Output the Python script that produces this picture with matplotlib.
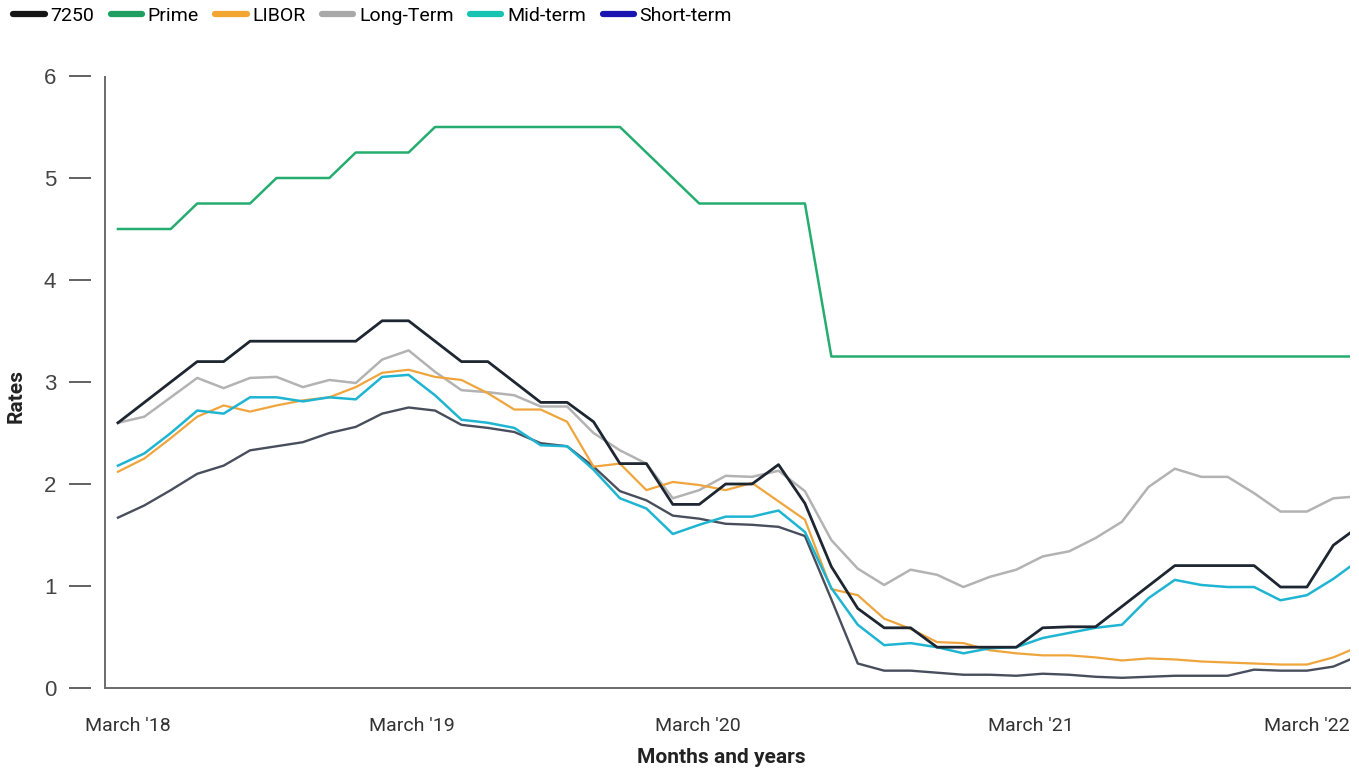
import numpy as np
import matplotlib
matplotlib.use("Agg")
import matplotlib.pyplot as plt
from matplotlib.lines import Line2D

# monthly series, index 0 = first month shown
rate_7250 = [2.60, 2.80, 3.00, 3.20, 3.20, 3.40, 3.40, 3.40, 3.40, 3.40,
             3.60, 3.60, 3.40, 3.20, 3.20, 3.00, 2.80, 2.80, 2.61, 2.20,
             2.20, 1.80, 1.80, 2.00, 2.00, 2.19, 1.81, 1.19, 0.78, 0.59,
             0.59, 0.40, 0.40, 0.40, 0.40, 0.59, 0.60, 0.60, 0.80, 1.00,
             1.20, 1.20, 1.20, 1.20, 0.99, 0.99, 1.40, 1.59]
prime = [4.50, 4.50, 4.50, 4.75, 4.75, 4.75, 5.00, 5.00, 5.00, 5.25,
         5.25, 5.25, 5.50, 5.50, 5.50, 5.50, 5.50, 5.50, 5.50, 5.50,
         5.25, 5.00, 4.75, 4.75, 4.75, 4.75, 4.75, 3.25, 3.25, 3.25,
         3.25, 3.25, 3.25, 3.25, 3.25, 3.25, 3.25, 3.25, 3.25, 3.25,
         3.25, 3.25, 3.25, 3.25, 3.25, 3.25, 3.25, 3.25]
libor = [2.12, 2.25, 2.45, 2.66, 2.77, 2.71, 2.77, 2.82, 2.85, 2.95,
         3.09, 3.12, 3.05, 3.02, 2.89, 2.73, 2.73, 2.61, 2.17, 2.20,
         1.94, 2.02, 1.99, 1.94, 2.01, 1.83, 1.65, 0.97, 0.91, 0.68,
         0.58, 0.45, 0.44, 0.37, 0.34, 0.32, 0.32, 0.30, 0.27, 0.29,
         0.28, 0.26, 0.25, 0.24, 0.23, 0.23, 0.30, 0.41]
long_term = [2.60, 2.66, 2.85, 3.04, 2.94, 3.04, 3.05, 2.95, 3.02, 2.99,
             3.22, 3.31, 3.10, 2.92, 2.90, 2.87, 2.76, 2.76, 2.50, 2.33,
             2.20, 1.86, 1.94, 2.08, 2.07, 2.13, 1.93, 1.45, 1.17, 1.01,
             1.16, 1.11, 0.99, 1.09, 1.16, 1.29, 1.34, 1.47, 1.63, 1.97,
             2.15, 2.07, 2.07, 1.91, 1.73, 1.73, 1.86, 1.88]
mid_term = [2.18, 2.30, 2.50, 2.72, 2.69, 2.85, 2.85, 2.81, 2.85, 2.83,
            3.05, 3.07, 2.87, 2.63, 2.60, 2.55, 2.38, 2.37, 2.14, 1.86,
            1.76, 1.51, 1.60, 1.68, 1.68, 1.74, 1.53, 0.98, 0.62, 0.42,
            0.44, 0.40, 0.34, 0.39, 0.40, 0.49, 0.54, 0.59, 0.62, 0.88,
            1.06, 1.01, 0.99, 0.99, 0.86, 0.91, 1.07, 1.26]
short_term = [1.67, 1.79, 1.94, 2.10, 2.18, 2.33, 2.37, 2.41, 2.50, 2.56,
              2.69, 2.75, 2.72, 2.58, 2.55, 2.51, 2.40, 2.37, 2.17, 1.93,
              1.84, 1.69, 1.66, 1.61, 1.60, 1.58, 1.49, 0.87, 0.24, 0.17,
              0.17, 0.15, 0.13, 0.13, 0.12, 0.14, 0.13, 0.11, 0.10, 0.11,
              0.12, 0.12, 0.12, 0.18, 0.17, 0.17, 0.21, 0.32]

x_labels = ["March '18", "March '19", "March '20", "March '21", "March '22"]
y_ticks = [0, 1, 2, 3, 4, 5, 6]
legend_labels = ["7250", "Prime", "LIBOR", "Long-Term", "Mid-term", "Short-term"]

# layout (month-index units)
x_label_pos = [0.38, 11.12, 21.95, 34.55, 45.0]
x_left, x_right = -1.02, 46.63
spine_x = -0.49

cond = ["Roboto", "DejaVu Sans"]
plain = ["Liberation Sans", "DejaVu Sans"]

fig = plt.figure(figsize=(13.59, 7.71), dpi=100)
ax = fig.add_axes([91 / 1359, 1 - 688 / 771, 1259 / 1359, 612 / 771])

x = np.arange(len(rate_7250))
ax.plot(x, short_term, color="#484e5c", lw=1.7, zorder=3)
ax.plot(x, long_term, color="#b3b3b3", lw=1.8, zorder=2)
ax.plot(x, libor, color="#efa53c", lw=1.6, zorder=3)
ax.plot(x, mid_term, color="#1fb5d2", lw=1.8, zorder=4)
ax.plot(x, prime, color="#25ad70", lw=1.8, zorder=4)
ax.plot(x, rate_7250, color="#1d2631", lw=2.0, zorder=5)

ax.set_xlim(x_left, x_right)
ax.set_ylim(0, 6)

# axis lines
for s in ["top", "right", "left"]:
    ax.spines[s].set_visible(False)
ax.spines["bottom"].set_bounds(spine_x, x_right)
ax.spines["bottom"].set_color("#6b6b6b")
ax.spines["bottom"].set_linewidth(1.4)
ax.axvline(spine_x, color="#6b6b6b", lw=1.4, zorder=1)

ax.set_yticks(y_ticks)
ax.set_yticklabels([str(t) for t in y_ticks], family=plain, fontsize=16, color="#444444")
ax.tick_params(axis="y", direction="out", length=16, width=1.3, color="#555555", pad=9)

ax.set_xticks(x_label_pos)
ax.set_xticklabels(x_labels, family=cond, fontsize=14, color="#333333")
ax.tick_params(axis="x", length=0, pad=21)

ax.set_ylabel("Rates", family=cond, fontsize=15, fontweight="bold", color="#222222")
ax.yaxis.set_label_coords(-0.052, 0.477)
ax.set_xlabel("Months and years", family=cond, fontsize=15, fontweight="bold", color="#222222")
ax.xaxis.set_label_coords(0.501, -0.098)

# legend swatches use the legend's own colours
swatch_colors = ["#161616", "#1f9e62", "#f2a531", "#a9a9a9", "#17c4b2", "#1a14b0"]
handles = [Line2D([0], [0], color=c, lw=4.5, solid_capstyle="round") for c in swatch_colors]
fig.legend(handles, legend_labels, loc="upper left", bbox_to_anchor=(-0.003, 1.014),
           ncol=6, frameon=False, handlelength=1.6, handletextpad=0.3,
           columnspacing=0.85, prop={"family": cond, "size": 14})

plt.savefig("out.png", dpi=100)
